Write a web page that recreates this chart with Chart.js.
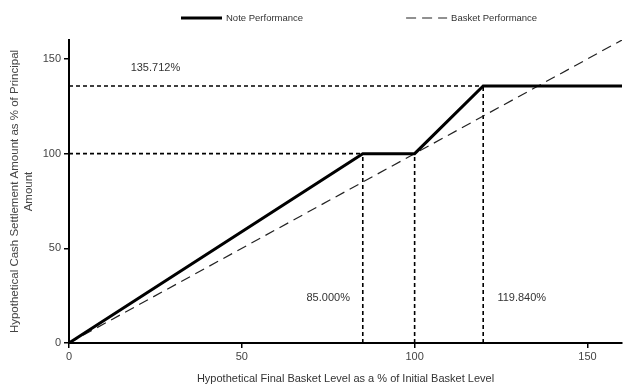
<!DOCTYPE html>
<html>
<head>
<meta charset="utf-8">
<script src="https://cdn.jsdelivr.net/npm/chart.js@4.4.1/dist/chart.umd.min.js"></script>
<style>
  html, body { margin: 0; padding: 0; background: #fff; }
  #contenedor { width: 635px; height: 392px; }
</style>
</head>
<body>
<div id="contenedor"><canvas id="grafico_nota"></canvas></div>
<script>
// Nivel final de la cesta (eje x) y pago de la nota (eje y)
const notaX = [0, 85, 100, 119.84, 160];
const notaY = [0, 100, 100, 135.712, 135.712];
const cestaX = [0, 160];
const cestaY = [0, 160];

// lineas guia punteadas
const guiaHorizY = [100, 135.712];
const guiaHorizHasta = [85, 119.84];
const guiaVertX = [85, 100, 119.84];
const guiaVertHasta = [100, 100, 135.712];

// textos de los niveles
const etiquetas = ['135.712%', '85.000%', '119.840%'];
const etiquetaX = [25, 75, 131];
const etiquetaY = [145, 24, 24];

const ticksX = [0, 50, 100, 150];
const ticksY = [0, 50, 100, 150];

const fuente = "'Liberation Sans', Arial, sans-serif";

function puntos(xs, ys) {
  return xs.map((x, i) => ({ x: x, y: ys[i] }));
}

const guias = [];
guiaHorizY.forEach((y, i) => {
  guias.push(puntos([0, guiaHorizHasta[i]], [y, y]));
});
guiaVertX.forEach((x, i) => {
  guias.push(puntos([x, x], [0, guiaVertHasta[i]]));
});

const datasets = [
  {
    label: 'Note Performance',
    data: puntos(notaX, notaY),
    borderColor: '#000',
    borderWidth: 3,
  },
  {
    label: 'Basket Performance',
    data: puntos(cestaX, cestaY),
    borderColor: '#222',
    borderWidth: 1.2,
    borderDash: [10, 6],
  },
];
guias.forEach((g) => {
  datasets.push({
    label: '',
    data: g,
    borderColor: '#000',
    borderWidth: 1.6,
    borderDash: [4, 3],
    guia: true,
  });
});

// leyenda y textos dibujados a mano
const textosPlugin = {
  id: 'textos',
  afterDraw(chart) {
    const ctx = chart.ctx;
    const sx = chart.scales.x;
    const sy = chart.scales.y;
    ctx.save();
    ctx.fillStyle = '#333';
    ctx.font = '11px ' + fuente;
    ctx.textAlign = 'center';
    ctx.textBaseline = 'middle';
    etiquetas.forEach((t, i) => {
      ctx.fillText(t, sx.getPixelForValue(etiquetaX[i]), sy.getPixelForValue(etiquetaY[i]));
    });

    // leyenda
    let x = 181;
    const y = 18;
    ctx.font = '9.5px ' + fuente;
    ctx.textAlign = 'left';
    chart.data.datasets.filter((d) => !d.guia).forEach((d) => {
      ctx.beginPath();
      ctx.strokeStyle = d.borderColor;
      ctx.lineWidth = d.borderWidth;
      ctx.setLineDash(d.borderDash || []);
      ctx.moveTo(x, y);
      ctx.lineTo(x + 41, y);
      ctx.stroke();
      ctx.setLineDash([]);
      x += 45;
      ctx.fillText(d.label, x, y);
      x += ctx.measureText(d.label).width + 103;
    });
    ctx.restore();
  },
};

const grafica = new Chart(document.getElementById('grafico_nota'), {
  type: 'scatter',
  data: { datasets: datasets },
  options: {
    responsive: true,
    maintainAspectRatio: false,
    animation: false,
    showLine: true,
    elements: {
      point: { radius: 0, hoverRadius: 0 },
      line: { tension: 0, borderCapStyle: 'butt' },
    },
    layout: { padding: { left: 8, right: 13, top: 40, bottom: 6 } },
    plugins: {
      legend: { display: false },
      tooltip: { enabled: false },
    },
    scales: {
      x: {
        type: 'linear',
        min: 0,
        max: 160,
        afterBuildTicks: (axis) => { axis.ticks = ticksX.map((v) => ({ value: v })); },
        afterFit: (scale) => { scale.height = 43; },
        border: { color: '#000', width: 2 },
        grid: { drawOnChartArea: false, color: '#000', lineWidth: 1.5, tickLength: 5 },
        ticks: { color: '#444', font: { family: fuente, size: 11 }, padding: 2, maxRotation: 0 },
        title: {
          display: true,
          text: 'Hypothetical Final Basket Level as a % of Initial Basket Level',
          color: '#333',
          font: { family: fuente, size: 11 },
          padding: { top: 4, bottom: 0 },
        },
      },
      y: {
        type: 'linear',
        min: 0,
        max: 160,
        afterBuildTicks: (axis) => { axis.ticks = ticksY.map((v) => ({ value: v })); },
        afterFit: (scale) => { scale.width = 61; },
        border: { color: '#000', width: 2 },
        grid: { drawOnChartArea: false, color: '#000', lineWidth: 1.5, tickLength: 5 },
        ticks: { color: '#444', font: { family: fuente, size: 11 }, padding: 3 },
        title: {
          display: true,
          text: ['Hypothetical Cash Settlement Amount as % of Principal', 'Amount'],
          color: '#444',
          font: { family: fuente, size: 11.5 },
          padding: { top: 0, bottom: 4 },
        },
      },
    },
  },
  plugins: [textosPlugin],
});
</script>
</body>
</html>
